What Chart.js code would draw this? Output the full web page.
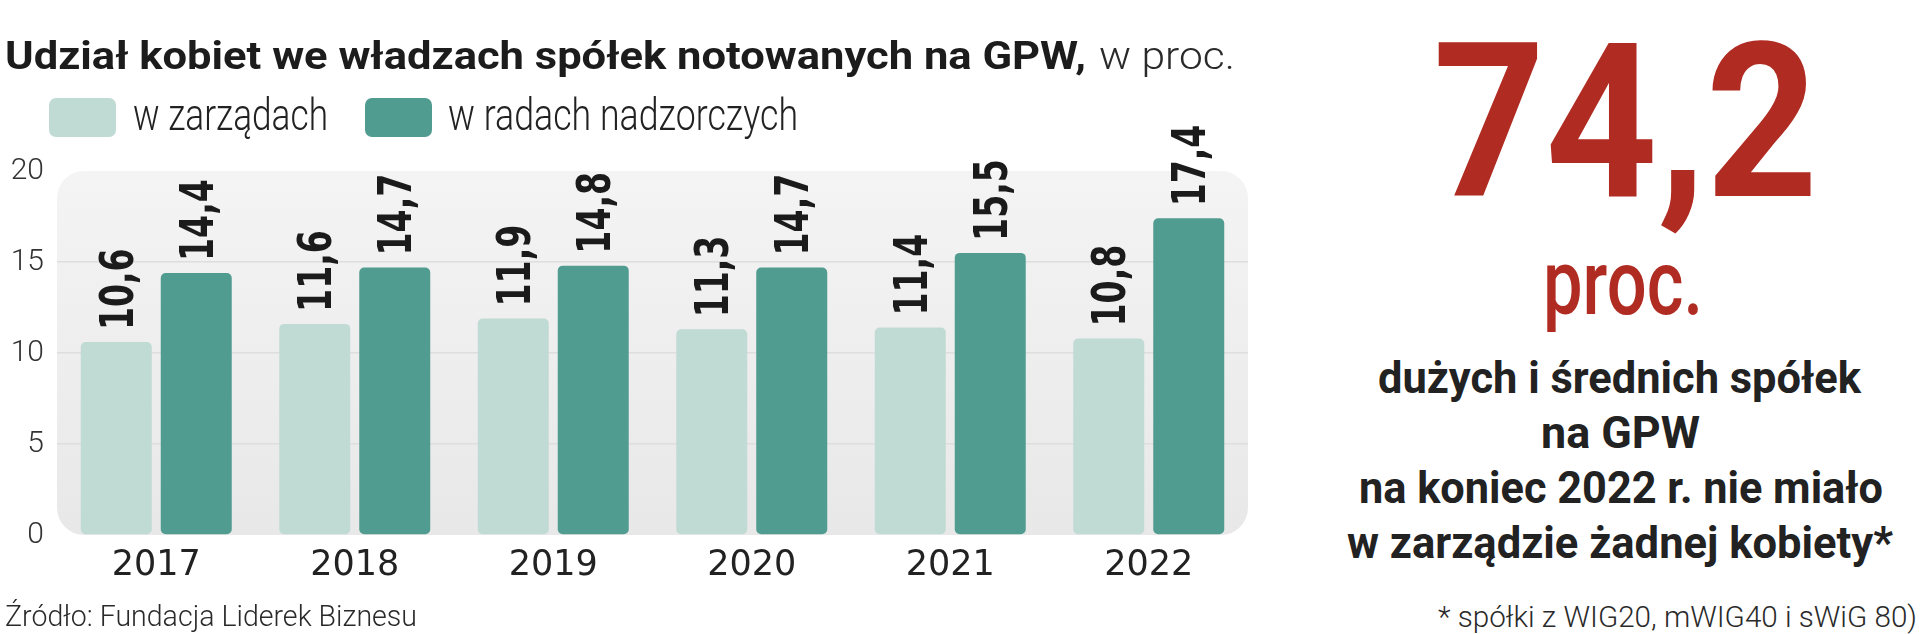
<!DOCTYPE html>
<html lang="pl">
<head>
<meta charset="utf-8">
<script src="https://cdn.jsdelivr.net/npm/chart.js@4/dist/chart.umd.min.js"></script>
<style>
  html, body { margin: 0; padding: 0; background: #ffffff; }
  body { width: 1920px; height: 634px; position: relative; overflow: hidden; }
  #chart { position: absolute; left: 0; top: 0; }
  .t { position: absolute; white-space: nowrap; line-height: 1; transform-origin: 0 0; font-family: Roboto, "Liberation Sans", sans-serif; color: #1c1c1c; }
</style>
</head>
<body>
<canvas id="chart" width="1270" height="634"></canvas>

<div class="t" id="titleB" style="top:37px;font-size:39px;font-weight:700;">Udział kobiet we władzach spółek notowanych na GPW,</div>
<div class="t" id="titleL" style="top:37px;font-size:39px;font-weight:300;color:#2a2a2a;">w proc.</div>

<div class="t" id="big" style="top:15px;font-size:215px;font-weight:700;color:#b02b21;">74,2</div>
<div class="t" id="proc" style="top:238px;font-size:91px;font-weight:500;color:#b02b21;">proc.</div>
<div class="t" id="l1" style="top:356px;font-size:44px;font-weight:700;color:#222;">dużych i średnich spółek</div>
<div class="t" id="l2" style="top:411px;font-size:44px;font-weight:700;color:#222;">na GPW</div>
<div class="t" id="l3" style="top:466px;font-size:44px;font-weight:700;color:#222;">na koniec 2022 r. nie miało</div>
<div class="t" id="l4" style="top:521px;font-size:44px;font-weight:700;color:#222;">w zarządzie żadnej kobiety*</div>
<div class="t" id="foot" style="top:602px;font-size:30px;font-weight:300;color:#2a2a2a;">* spółki z WIG20, mWIG40 i sWiG 80)</div>
<div class="t" id="src" style="top:601px;font-size:30px;font-weight:300;color:#2a2a2a;">Źródło: Fundacja Liderek Biznesu</div>

<script>
// ---- data ----
const years = ['2017', '2018', '2019', '2020', '2021', '2022'];
const seriesNames = ['w zarządach', 'w radach nadzorczych'];
const zarzady = [10.6, 11.6, 11.9, 11.3, 11.4, 10.8];
const rady = [14.4, 14.7, 14.8, 14.7, 15.5, 17.4];
const yMin = 0;
const yMax = 20;
const yStep = 5;

// ---- styles ----
const colLight = '#c0dad4';
const colDark = '#519c90';

// fit HTML text lines horizontally to the reference widths
function fitText(id, left, width) {
  const el = document.getElementById(id);
  el.style.left = left + 'px';
  el.style.transform = 'none';
  const w = el.getBoundingClientRect().width;
  el.style.transform = 'scaleX(' + (width / w) + ')';
}
fitText('titleB', 5, 1081);
fitText('titleL', 1099, 136);
fitText('big', 1433, 385);
fitText('proc', 1543, 160);
fitText('l1', 1378, 483);
fitText('l2', 1541, 159);
fitText('l3', 1359, 524);
fitText('l4', 1347, 546);
fitText('foot', 1438, 479);
fitText('src', 5, 412);

const bgPlugin = {
  id: 'plotBg',
  beforeDraw(chart) {
    const { ctx, chartArea: a } = chart;
    ctx.save();
    const g = ctx.createLinearGradient(0, a.top, 0, a.bottom);
    g.addColorStop(0, '#f4f4f4');
    g.addColorStop(1, '#e8e8e8');
    ctx.fillStyle = g;
    ctx.beginPath();
    ctx.roundRect(a.left, a.top, a.right - a.left, a.bottom - a.top, 27);
    ctx.fill();
    ctx.restore();
  }
};

const valueLabels = {
  id: 'valueLabels',
  afterDatasetsDraw(chart) {
    const { ctx } = chart;
    ctx.save();
    ctx.fillStyle = '#1b1b1b';
    ctx.font = 'bold 46px "DejaVu Sans"';
    ctx.textAlign = 'left';
    ctx.textBaseline = 'alphabetic';
    chart.data.datasets.forEach((ds, i) => {
      const meta = chart.getDatasetMeta(i);
      meta.data.forEach((bar, j) => {
        const txt = ds.data[j].toFixed(1).replace('.', ',');
        ctx.save();
        ctx.translate(bar.x, bar.y - 12);
        ctx.rotate(-Math.PI / 2);
        ctx.scale(0.72, 1);
        ctx.fillText(txt, 0, 16.5);
        ctx.restore();
      });
    });
    ctx.restore();
  }
};

const legendBoxes = {
  id: 'legendBoxes',
  afterDraw(chart) {
    const { ctx } = chart;
    const boxX = [49, 365];
    const textX = [133, 448];
    const textW = [195, 350];
    ctx.save();
    chart.data.datasets.forEach((ds, i) => {
      ctx.fillStyle = ds.backgroundColor;
      ctx.beginPath();
      ctx.roundRect(boxX[i], 98, 67, 39, 7);
      ctx.fill();
      ctx.font = '300 44px Roboto';
      ctx.fillStyle = '#222';
      ctx.textBaseline = 'alphabetic';
      ctx.textAlign = 'left';
      const w = ctx.measureText(ds.label).width;
      ctx.save();
      ctx.translate(textX[i], 130);
      ctx.scale(textW[i] / w, 1);
      ctx.fillText(ds.label, 0, 0);
      ctx.restore();
    });
    ctx.restore();
  }
};

new Chart(document.getElementById('chart'), {
  type: 'bar',
  data: {
    labels: years,
    datasets: [
      { label: seriesNames[0], data: zarzady, backgroundColor: colLight },
      { label: seriesNames[1], data: rady, backgroundColor: colDark }
    ]
  },
  options: {
    responsive: false,
    animation: false,
    devicePixelRatio: 1,
    layout: { padding: { left: 0, right: 22, top: 171, bottom: 0 } },
    datasets: {
      bar: {
        categoryPercentage: 0.806,
        barPercentage: 0.8875,
        borderRadius: 5,
        borderSkipped: false
      }
    },
    plugins: {
      legend: { display: false },
      title: { display: false },
      tooltip: { enabled: false }
    },
    scales: {
      x: {
        grid: { display: false, drawTicks: false },
        border: { display: false },
        ticks: {
          color: '#222',
          font: { family: '"DejaVu Sans"', size: 35 },
          padding: 10
        },
        afterFit(scale) { scale.height = 99; }
      },
      y: {
        min: yMin,
        max: yMax,
        border: { display: false },
        grid: {
          drawTicks: false,
          lineWidth: 1.5,
          color: (c) => (c.tick && (c.tick.value === yMin || c.tick.value === yMax)) ? 'rgba(0,0,0,0)' : '#dedede'
        },
        ticks: {
          stepSize: yStep,
          color: '#333',
          font: { family: 'Roboto', weight: '300', size: 30 },
          padding: 13
        },
        afterFit(scale) { scale.width = 57; }
      }
    }
  },
  plugins: [bgPlugin, valueLabels, legendBoxes]
});
</script>
</body>
</html>
